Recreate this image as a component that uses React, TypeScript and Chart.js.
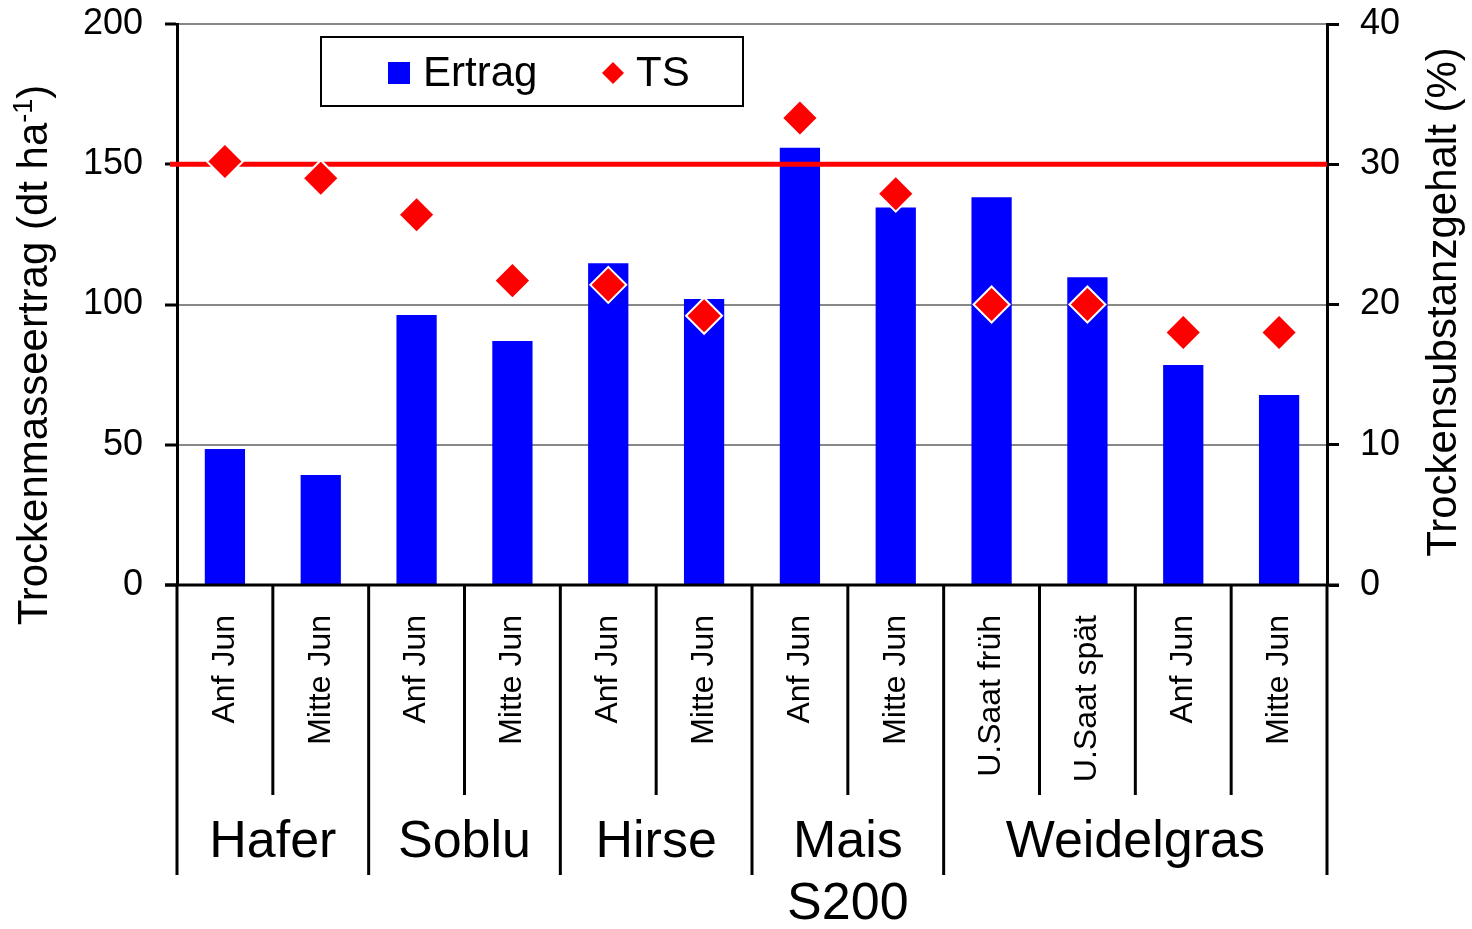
import React, { useEffect, useRef } from 'react';
import { Chart, registerables } from 'chart.js';

Chart.register(...registerables);

const CATEGORIES = ['Anf Jun', 'Mitte Jun', 'Anf Jun', 'Mitte Jun', 'Anf Jun', 'Mitte Jun', 'Anf Jun', 'Mitte Jun', 'U.Saat früh', 'U.Saat spät', 'Anf Jun', 'Mitte Jun'];
const GROUPS = ['Hafer', 'Soblu', 'Hirse', 'Mais', 'Weidelgras'];
const GROUP_SIZES = [2, 2, 2, 2, 4];
const GROUP_SUBTITLES = ['', '', '', 'S200', ''];
const ERTRAG = [48.5, 39.2, 96.3, 87.0, 114.7, 102.0, 155.9, 134.6, 138.2, 109.7, 78.4, 67.7];
const TS = [30.2, 29.0, 26.4, 21.7, 21.4, 19.2, 33.3, 27.9, 20.0, 20.0, 18.0, 18.0];
const TS_THRESHOLD = 30;
const LEFT_RANGE = [0, 200, 50];
const RIGHT_RANGE = [0, 40, 10];
const LEFT_TITLE = 'Trockenmasseertrag (dt ha';
const LEFT_TITLE_SUP = '-1';
const LEFT_TITLE_END = ')';
const RIGHT_TITLE = 'Trockensubstanzgehalt (%)';

const FONT = '"Liberation Sans", Arial, sans-serif';

const customPlugin = {
  id: 'customDecor',
  afterDatasetDraw(chart: any, args: any) {
    if (args.index !== 0) return;
    const { ctx, chartArea } = chart;
    const py = chart.scales.y2.getPixelForValue(TS_THRESHOLD);
    ctx.save();
    ctx.strokeStyle = '#FF0000';
    ctx.lineWidth = 5;
    ctx.beginPath();
    ctx.moveTo(chartArea.left - 7, py);
    ctx.lineTo(chartArea.right, py);
    ctx.stroke();
    ctx.restore();
  },
  afterDraw(chart: any) {
    const { ctx, chartArea } = chart;
    const xs = chart.scales.x;
    const n = CATEGORIES.length;
    const catW = (chartArea.right - chartArea.left) / n;
    const bottom = chartArea.bottom;
    ctx.save();
    // bottom axis line
    ctx.strokeStyle = '#000';
    ctx.lineWidth = 3;
    ctx.beginPath();
    ctx.moveTo(chartArea.left - 12, bottom);
    ctx.lineTo(chartArea.right + 12, bottom);
    ctx.stroke();
    // separators
    const groupBounds = new Set<number>();
    let acc = 0;
    groupBounds.add(0);
    GROUP_SIZES.forEach((s) => { acc += s; groupBounds.add(acc); });
    for (let i = 0; i <= n; i++) {
      const x = chartArea.left + i * catW;
      const isGroup = groupBounds.has(i);
      ctx.beginPath();
      ctx.moveTo(x, bottom);
      ctx.lineTo(x, isGroup ? bottom + 290 : bottom + 210);
      ctx.stroke();
    }
    // category labels
    ctx.fillStyle = '#000';
    ctx.font = `32px ${FONT}`;
    ctx.textAlign = 'right';
    ctx.textBaseline = 'middle';
    CATEGORIES.forEach((lab, i) => {
      const cx = xs.getPixelForValue(i);
      ctx.save();
      ctx.translate(cx, bottom + 30);
      ctx.rotate(-Math.PI / 2);
      ctx.fillText(lab, 0, 0);
      ctx.restore();
    });
    // group labels
    ctx.font = `52px ${FONT}`;
    ctx.textAlign = 'center';
    let start = 0;
    GROUPS.forEach((g, gi) => {
      const size = GROUP_SIZES[gi];
      const cx = chartArea.left + (start + size / 2) * catW;
      ctx.fillText(g, cx, bottom + 258);
      if (GROUP_SUBTITLES[gi]) ctx.fillText(GROUP_SUBTITLES[gi], cx, bottom + 320);
      start += size;
    });
    // left title with superscript
    ctx.textAlign = 'left';
    ctx.textBaseline = 'alphabetic';
    const mainFont = `42px ${FONT}`;
    const supFont = `27px ${FONT}`;
    ctx.font = mainFont;
    const w1 = ctx.measureText(LEFT_TITLE).width;
    const w3 = ctx.measureText(LEFT_TITLE_END).width;
    ctx.font = supFont;
    const w2 = ctx.measureText(LEFT_TITLE_SUP).width;
    const total = w1 + w2 + w3;
    ctx.save();
    ctx.translate(47, 355);
    ctx.rotate(-Math.PI / 2);
    let x = -total / 2;
    ctx.font = mainFont;
    ctx.fillText(LEFT_TITLE, x, 0);
    x += w1;
    ctx.font = supFont;
    ctx.fillText(LEFT_TITLE_SUP, x, -15);
    x += w2;
    ctx.font = mainFont;
    ctx.fillText(LEFT_TITLE_END, x, 0);
    ctx.restore();
    // right title
    ctx.save();
    ctx.translate(1456, 302);
    ctx.rotate(-Math.PI / 2);
    ctx.font = mainFont;
    ctx.textAlign = 'center';
    ctx.fillText(RIGHT_TITLE, 0, 0);
    ctx.restore();
    // legend
    const ds0 = chart.data.datasets[0];
    const ds1 = chart.data.datasets[1];
    ctx.fillStyle = '#fff';
    ctx.fillRect(321, 37, 422, 69);
    ctx.strokeStyle = '#000';
    ctx.lineWidth = 2;
    ctx.strokeRect(321, 37, 422, 69);
    ctx.fillStyle = ds0.backgroundColor;
    ctx.fillRect(388, 62, 22, 22);
    ctx.fillStyle = ds1.pointBackgroundColor;
    ctx.beginPath();
    ctx.moveTo(613, 62);
    ctx.lineTo(624, 73);
    ctx.lineTo(613, 84);
    ctx.lineTo(602, 73);
    ctx.closePath();
    ctx.fill();
    ctx.fillStyle = '#000';
    ctx.font = `42px ${FONT}`;
    ctx.textAlign = 'left';
    ctx.textBaseline = 'middle';
    ctx.fillText(ds0.label, 423, 74);
    ctx.fillText(ds1.label, 636, 74);
    ctx.restore();
  },
};

export default function App() {
  const ref = useRef<HTMLCanvasElement | null>(null);
  useEffect(() => {
    if (!ref.current) return;
    const chart = new Chart(ref.current, {
      type: 'bar',
      data: {
        labels: CATEGORIES,
        datasets: [
          {
            type: 'bar',
            label: 'Ertrag',
            data: ERTRAG,
            backgroundColor: '#0000FF',
            borderWidth: 0,
            yAxisID: 'y',
            barPercentage: 0.42,
            categoryPercentage: 1,
            order: 1,
          } as any,
          {
            type: 'line',
            label: 'TS',
            data: TS,
            showLine: false,
            yAxisID: 'y2',
            pointStyle: 'rectRot',
            pointRadius: 18,
            pointBackgroundColor: '#FF0000',
            pointBorderColor: '#FFFFFF',
            pointBorderWidth: 2,
            order: 0,
          } as any,
        ],
      },
      options: {
        animation: false,
        responsive: false,
        devicePixelRatio: 1,
        layout: { padding: { top: 24, bottom: 344, left: 0, right: 0 } },
        plugins: { legend: { display: false }, tooltip: { enabled: false } },
        scales: {
          x: { display: false, offset: true },
          y: {
            position: 'left',
            min: LEFT_RANGE[0],
            max: LEFT_RANGE[1],
            ticks: { stepSize: LEFT_RANGE[2], color: '#000', font: { family: FONT, size: 36 }, padding: 22 },
            grid: { color: '#888888', lineWidth: 2, tickColor: '#000', tickWidth: 3, tickLength: 12 },
            border: { color: '#000', width: 3 },
            afterFit: (s: any) => { s.width = 177; s.paddingTop = 0; s.paddingBottom = 0; },
          },
          y2: {
            position: 'right',
            min: RIGHT_RANGE[0],
            max: RIGHT_RANGE[1],
            ticks: { stepSize: RIGHT_RANGE[2], color: '#000', font: { family: FONT, size: 36 }, padding: 21 },
            grid: { drawOnChartArea: false, tickColor: '#000', tickWidth: 3, tickLength: 12 },
            border: { color: '#000', width: 3 },
            afterFit: (s: any) => { s.width = 145; s.paddingTop = 0; s.paddingBottom = 0; },
          },
        },
      } as any,
      plugins: [customPlugin],
    });
    return () => chart.destroy();
  }, []);
  return (
    <div style={{ position: 'absolute', left: 0, top: 0, width: 1472, height: 929, background: '#fff' }}>
      <canvas ref={ref} width={1472} height={929} style={{ display: 'block' }} />
    </div>
  );
}
